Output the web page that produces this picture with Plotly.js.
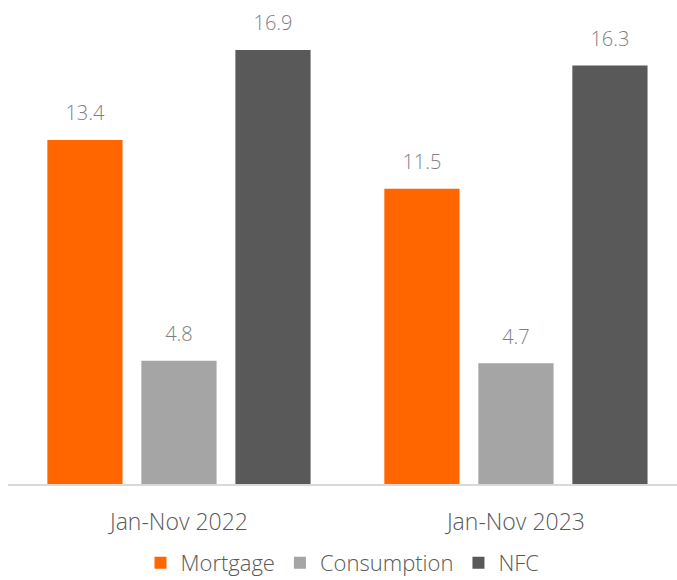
<!DOCTYPE html>
<html>
<head>
<meta charset="utf-8">
<script src="https://cdn.plot.ly/plotly-3.0.1.min.js"></script>
<style>html,body{margin:0;padding:0;background:#fff;}#chart{width:677px;height:580px;}</style>
</head>
<body>
<div id="chart"></div>
<script>
const categories = ['Jan-Nov 2022', 'Jan-Nov 2023'];
const seriesNames = ['Mortgage', 'Consumption', 'NFC'];
const mortgage = [13.4, 11.5];
const consumption = [4.8, 4.7];
const nfc = [16.9, 16.3];
const colors = ['#FF6600', '#A5A5A5', '#595959'];

const FONT = 'Open Sans, Segoe UI, sans-serif';
const values = [mortgage, consumption, nfc];
const bars = values.map((v, i) => ({
  type: 'bar',
  name: seriesNames[i],
  x: categories,
  y: v,
  marker: {color: colors[i]},
  hoverinfo: 'skip'
}));
const labels = values.map((v, i) => ({
  type: 'scatter',
  mode: 'markers+text',
  x: categories,
  y: v,
  text: v.map(n => n.toFixed(1)),
  textposition: 'top center',
  marker: {size: 22, opacity: 0, color: colors[i]},
  textfont: {family: FONT, size: 20, color: '#7F7F7F', weight: 300},
  cliponaxis: false,
  showlegend: false,
  hoverinfo: 'skip'
}));

const layout = {
  width: 677, height: 580,
  margin: {l: 8, r: 0, t: 10, b: 96},
  paper_bgcolor: '#fff', plot_bgcolor: '#fff',
  barmode: 'group',
  scattermode: 'group',
  bargap: 0.163,
  scattergap: 0.163,
  bargroupgap: 0.2,
  xaxis: {
    type: 'category',
    range: [-0.5074, 1.478],
    showline: true, linecolor: '#D9D9D9', linewidth: 2,
    ticks: '', showgrid: false,
    tickfont: {family: FONT, size: 23, color: '#595959', weight: 300},
    ticklabelstandoff: 16
  },
  yaxis: {
    range: [0, 18.46],
    visible: false, showgrid: false, zeroline: false
  },
  showlegend: true,
  legend: {
    orientation: 'h', x: 0.5, xanchor: 'center',
    yref: 'container', y: 17 / 580, yanchor: 'middle',
    font: {family: FONT, size: 22, color: '#595959', weight: 300},
    itemwidth: 30, tracegroupgap: 0
  }
};

Plotly.newPlot('chart', bars.concat(labels), layout, {displayModeBar: false, staticPlot: true});
</script>
</body>
</html>
